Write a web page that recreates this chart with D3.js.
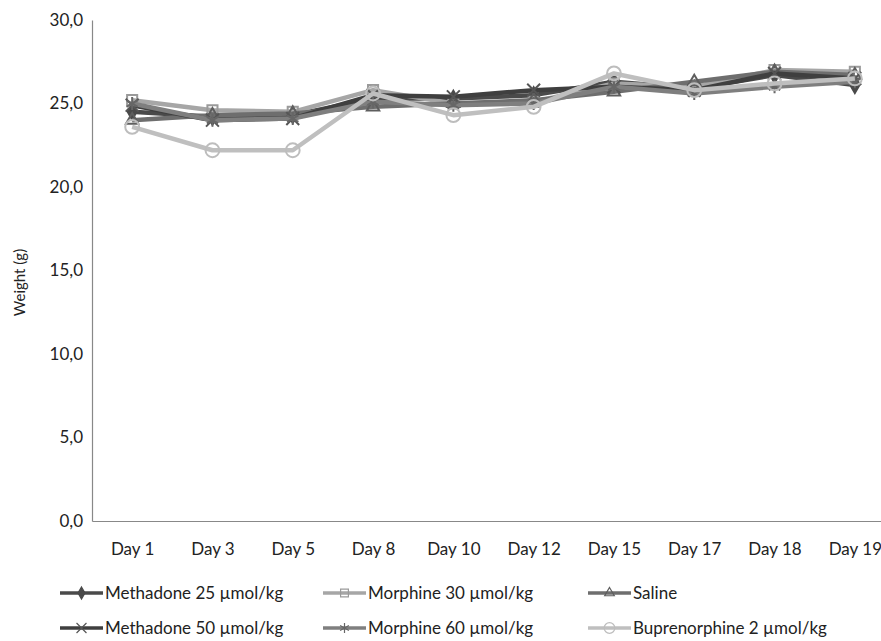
<!DOCTYPE html>
<html>
<head>
<meta charset="utf-8">
<script src="https://cdn.jsdelivr.net/npm/d3@7"></script>
<style>
  body { margin: 0; background: #fff; }
  svg { font-family: Lato, "Open Sans", sans-serif; }
</style>
</head>
<body>
<svg id="chart" width="881" height="641"></svg>
<script>
(function() {

    var days = ['Day 1', 'Day 3', 'Day 5', 'Day 8', 'Day 10', 'Day 12', 'Day 15', 'Day 17', 'Day 18', 'Day 19'];
    var yTicks = [0, 5, 10, 15, 20, 25, 30];

    var methadone25 = [24.5, 24.2, 24.3, 25.3, 25.3, 25.5, 26.3, 25.9, 26.7, 26.1];
    var morphine30 = [25.2, 24.6, 24.5, 25.8, 25.0, 25.1, 26.2, 26.0, 27.0, 26.9];
    var saline = [24.0, 24.3, 24.4, 24.8, 25.0, 25.2, 25.7, 26.3, 26.9, 26.7];
    var methadone50 = [24.9, 24.0, 24.1, 25.5, 25.4, 25.8, 26.0, 25.8, 26.8, 26.5];
    var morphine60 = [25.0, 24.0, 24.1, 25.1, 24.9, 25.0, 26.0, 25.6, 26.0, 26.3];
    var buprenorphine = [23.6, 22.2, 22.2, 25.6, 24.3, 24.8, 26.8, 25.8, 26.2, 26.5];

    var series = [
        { name: 'Methadone 25 \u00b5mol/kg', values: methadone25, line: '#4a4a4a', mark: d3.symbolDiamond, size: 70, fill: '#4a4a4a', stroke: '#4a4a4a' },
        { name: 'Morphine 30 \u00b5mol/kg', values: morphine30, line: '#a6a6a6', mark: d3.symbolSquare2, size: 130, fill: 'none', stroke: '#9a9a9a' },
        { name: 'Saline', values: saline, line: '#6e6e6e', mark: d3.symbolTriangle2, size: 110, fill: 'none', stroke: '#5e5e5e' },
        { name: 'Methadone 50 \u00b5mol/kg', values: methadone50, line: '#3f3f3f', mark: d3.symbolTimes, size: 110, fill: 'none', stroke: '#555555' },
        { name: 'Morphine 60 \u00b5mol/kg', values: morphine60, line: '#7f7f7f', mark: d3.symbolAsterisk, size: 120, fill: 'none', stroke: '#666666' },
        { name: 'Buprenorphine 2 \u00b5mol/kg', values: buprenorphine, line: '#bfbfbf', mark: d3.symbolCircle, size: 150, fill: 'none', stroke: '#bdbdbd' }
    ];

    var svg = d3.select('#chart');

    var left = 92, right = 895, top = 20, bottom = 521;

    var x = d3.scalePoint()
        .domain(days)
        .range([left, right])
        .padding(0.5);

    var y = d3.scaleLinear()
        .domain([0, 30])
        .range([bottom, top]);

    var fmt = function(v) { return d3.format('.1f')(v).replace('.', ','); };

    // y axis
    var yAxis = svg.append('g')
        .attr('transform', 'translate(' + left + ',0)')
        .call(d3.axisLeft(y).tickValues(yTicks).tickSize(0).tickPadding(9).tickFormat(fmt));
    yAxis.select('.domain').attr('stroke', '#888').attr('stroke-width', 1.2);
    yAxis.selectAll('text').attr('font-size', 17).attr('fill', '#222').attr('font-family', 'Lato, sans-serif');

    // x axis
    var xAxis = svg.append('g')
        .attr('transform', 'translate(0,' + bottom + ')')
        .call(d3.axisBottom(x).tickSize(0).tickPadding(22));
    xAxis.select('.domain').attr('stroke', '#888').attr('stroke-width', 1.2);
    xAxis.selectAll('text').attr('font-size', 17).attr('fill', '#222').attr('font-family', 'Lato, sans-serif');

    svg.append('text')
        .attr('transform', 'translate(25,' + ((top + bottom) / 2 + 12) + ') rotate(-90)')
        .attr('text-anchor', 'middle')
        .attr('font-size', 15)
        .attr('fill', '#222')
        .text('Weight (g)');

    var line = d3.line()
        .x(function(d, i) { return x(days[i]); })
        .y(function(d) { return y(d); });

    var groups = svg.selectAll('.series')
        .data(series)
        .enter().append('g')
            .attr('class', 'series');

    groups.append('path')
        .attr('d', function(s) { return line(s.values); })
        .attr('fill', 'none')
        .attr('stroke', function(s) { return s.line; })
        .attr('stroke-width', 4.5)
        .attr('stroke-linejoin', 'round');

    groups.each(function(s) {
        d3.select(this).selectAll('path.mark')
            .data(s.values)
            .enter().append('path')
                .attr('class', 'mark')
                .attr('transform', function(d, i) { return 'translate(' + x(days[i]) + ',' + y(d) + ')'; })
                .attr('d', d3.symbol().type(s.mark).size(s.size))
                .attr('fill', s.fill)
                .attr('stroke', s.stroke)
                .attr('stroke-width', 2);
    });

    // legend
    var legendX = [60, 323, 588];
    var legendY = [593, 628];

    var legend = svg.selectAll('.legend')
        .data(series)
        .enter().append('g')
            .attr('class', 'legend')
            .attr('transform', function(s, i) {
                return 'translate(' + legendX[i % 3] + ',' + legendY[Math.floor(i / 3)] + ')';
            });

    legend.append('line')
        .attr('x1', 0).attr('x2', 43)
        .attr('stroke', function(s) { return s.line; })
        .attr('stroke-width', 3.5);

    legend.append('path')
        .attr('transform', 'translate(21.5,0)')
        .attr('d', function(s) { return d3.symbol().type(s.mark).size(s.size * 0.6)(); })
        .attr('fill', function(s) { return s.fill; })
        .attr('stroke', function(s) { return s.stroke; })
        .attr('stroke-width', 1.2);

    legend.append('text')
        .attr('x', 45)
        .attr('dy', '0.35em')
        .attr('font-size', 17)
        .attr('fill', '#222')
        .text(function(s) { return s.name; });

})();
</script>
</body>
</html>
